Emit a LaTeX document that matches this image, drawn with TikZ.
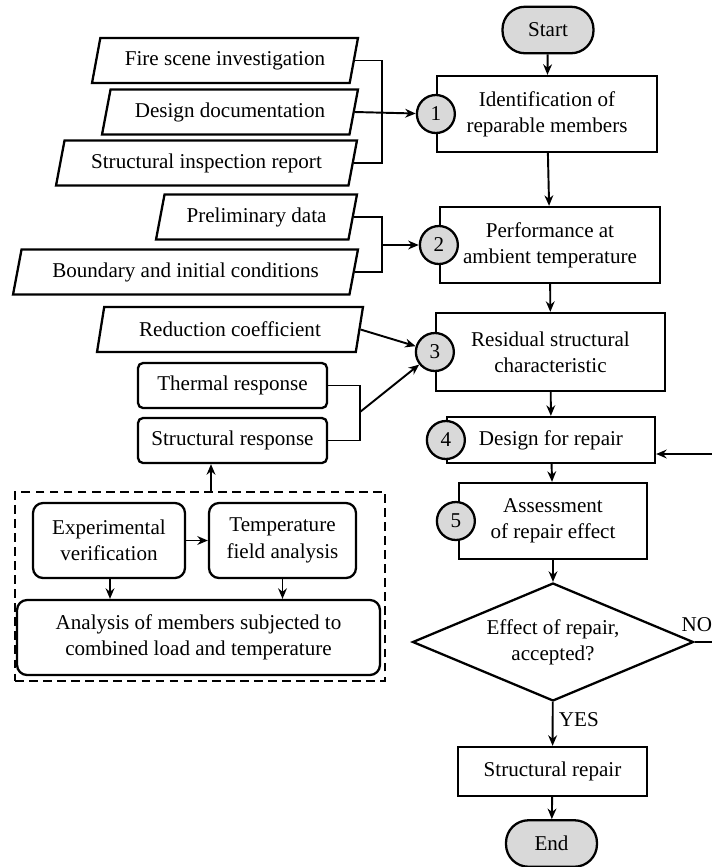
\documentclass[tikz,border=0pt]{standalone}
\usepackage{fontspec}
\setmainfont{Liberation Serif}
\usetikzlibrary{positioning, arrows.meta, shapes.geometric}

\begin{document}
\begin{tikzpicture}[
    x=0.02cm, y=-0.02cm,
    font=\fontsize{12}{15}\selectfont,
    line width=1.1pt,
    proc_box/.style = {draw, line width=1.3pt, rectangle, align=center, inner sep=2pt},
    io_box/.style = {draw, line width=1.3pt, trapezium, trapezium left angle=72, trapezium right angle=108, trapezium stretches body, minimum height=0.9cm, inner sep=2pt},
    res_box/.style = {draw, line width=1.3pt, rectangle, rounded corners=0.1cm, align=center, minimum width=3.78cm, minimum height=0.9cm},
    sim_box/.style = {draw, line width=1.3pt, rectangle, rounded corners=0.2cm, align=center, minimum height=1.5cm},
    term_box/.style = {draw, line width=1.3pt, fill=gray!30, rounded corners=0.45cm, minimum width=1.82cm, minimum height=0.93cm},
    step_num/.style = {draw, line width=1.3pt, circle, fill=gray!30, minimum size=0.76cm, inner sep=0pt},
    arrow_main/.style = {-{Stealth[length=6pt, width=5pt]}},
]
\path[use as bounding box, clip] (0,0) rectangle (712,867);

% --- Main flow (right column) ---
\node[term_box] (start) at (548,30) {Start};
\node[proc_box, minimum width=4.4cm, minimum height=1.52cm] (ident) at (547,114) {Identification of\\reparable members};
\node[proc_box, minimum width=4.4cm, minimum height=1.52cm] (perf) at (550,245) {Performance at\\ambient temperature};
\node[proc_box, minimum width=4.58cm, minimum height=1.56cm] (resid) at (550.5,352) {Residual structural\\characteristic};
\node[proc_box, minimum width=4.16cm, minimum height=0.92cm] (design) at (551,440) {Design for repair};
\node[proc_box, minimum width=3.76cm, minimum height=1.52cm] (assess) at (553,521) {Assessment\\of repair effect};
\node[draw, line width=1.3pt, diamond, shape aspect=2.38, minimum width=5.62cm, minimum height=2.36cm, inner sep=0pt, align=center] (dec) at (553,642) {Effect of repair,\\accepted?};
\node[proc_box, minimum width=3.78cm, minimum height=0.98cm] (repair) at (552.5,771.5) {Structural repair};
\node[term_box] (end) at (551.5,843.5) {End};

% step numbers
\node[step_num] (c1) at (ident.west) {1};
\node[step_num] (c2) at (perf.west) {2};
\node[step_num] (c3) at (resid.west) {3};
\node[step_num] (c4) at (design.west) {4};
\node[step_num] (c5) at ([xshift=-0.04cm]assess.west) {5};

\draw[arrow_main] (start) -- (ident);
\draw[arrow_main] (ident) -- (perf);
\draw[arrow_main] (perf) -- (resid);
\draw[arrow_main] (resid) -- (design);
\draw[arrow_main] (design) -- (assess);
\draw[arrow_main] (assess) -- (dec);
\draw[arrow_main] (dec) -- node[right, pos=0.4, inner sep=3pt] {YES} (repair);
\draw[arrow_main] (repair) -- (end);

% NO: back to design
\node[anchor=south west, inner sep=0pt] (no_lbl) at ([xshift=-0.28cm, yshift=0.18cm]dec.east) {NO};
\draw[arrow_main] (dec.east) -- ++(40,0) |- ([yshift=-0.28cm]design.east);

% --- Input data (left) ---
\node[io_box, minimum width=5.32cm] (fire) at (225,60.5) {Fire scene investigation};
\node[io_box, minimum width=5.12cm] (docs) at (230,112) {Design documentation};
\node[io_box, minimum width=6.02cm] (report) at (206.5,163) {Structural inspection report};
\coordinate (j1) at (382,113);
\draw (fire.east) -| (j1) |- (report.east);
\draw[arrow_main] (docs.east) -- (c1);

\node[io_box, minimum width=4.02cm] (prelim) at (256.5,217) {Preliminary data};
\node[io_box, minimum width=6.9cm] (bound) at (185.5,272) {Boundary and initial conditions};
\coordinate (j2) at (382,245);
\draw (prelim.east) -| (j2) |- (bound.east);
\draw[arrow_main] (j2) -- (c2);

\node[io_box, minimum width=5.32cm] (reduc) at (230,329.5) {Reduction coefficient};
\draw[arrow_main] (reduc.east) -- (c3);

\node[res_box] (therm) at (232.5,385.5) {Thermal response};
\node[res_box] (struct) at (232.5,440.5) {Structural response};
\coordinate (j3) at (360,412);
\draw (therm.east) -| (j3) |- (struct.east);
\draw[arrow_main] (j3) -- (c3);

% --- Analysis group (dashed) ---
\node[draw, dashed, dash pattern=on 5pt off 3pt, line width=1.4pt, minimum width=7.4cm, minimum height=3.78cm] (group) at (200,586.5) {};
\node[sim_box, minimum width=3.04cm] (exper) at (109,540.5) {Experimental\\verification};
\node[sim_box, minimum width=2.94cm] (tfield) at (282.5,540.5) {Temperature\\field analysis};
\node[sim_box, minimum width=7.26cm] (anal) at (198.5,637.5) {Analysis of members subjected to\\combined load and temperature};

\draw[arrow_main] (exper) -- (tfield);
\draw[arrow_main] ([xshift=0.02cm]exper.south) -- ([xshift=0.02cm]exper.south |- anal.north);
\draw[arrow_main] (tfield.south) -- (tfield.south |- anal.north);

\coordinate (up) at (211,492);
\draw[arrow_main] (up) -- (up |- struct.south);

\end{tikzpicture}
\end{document}
